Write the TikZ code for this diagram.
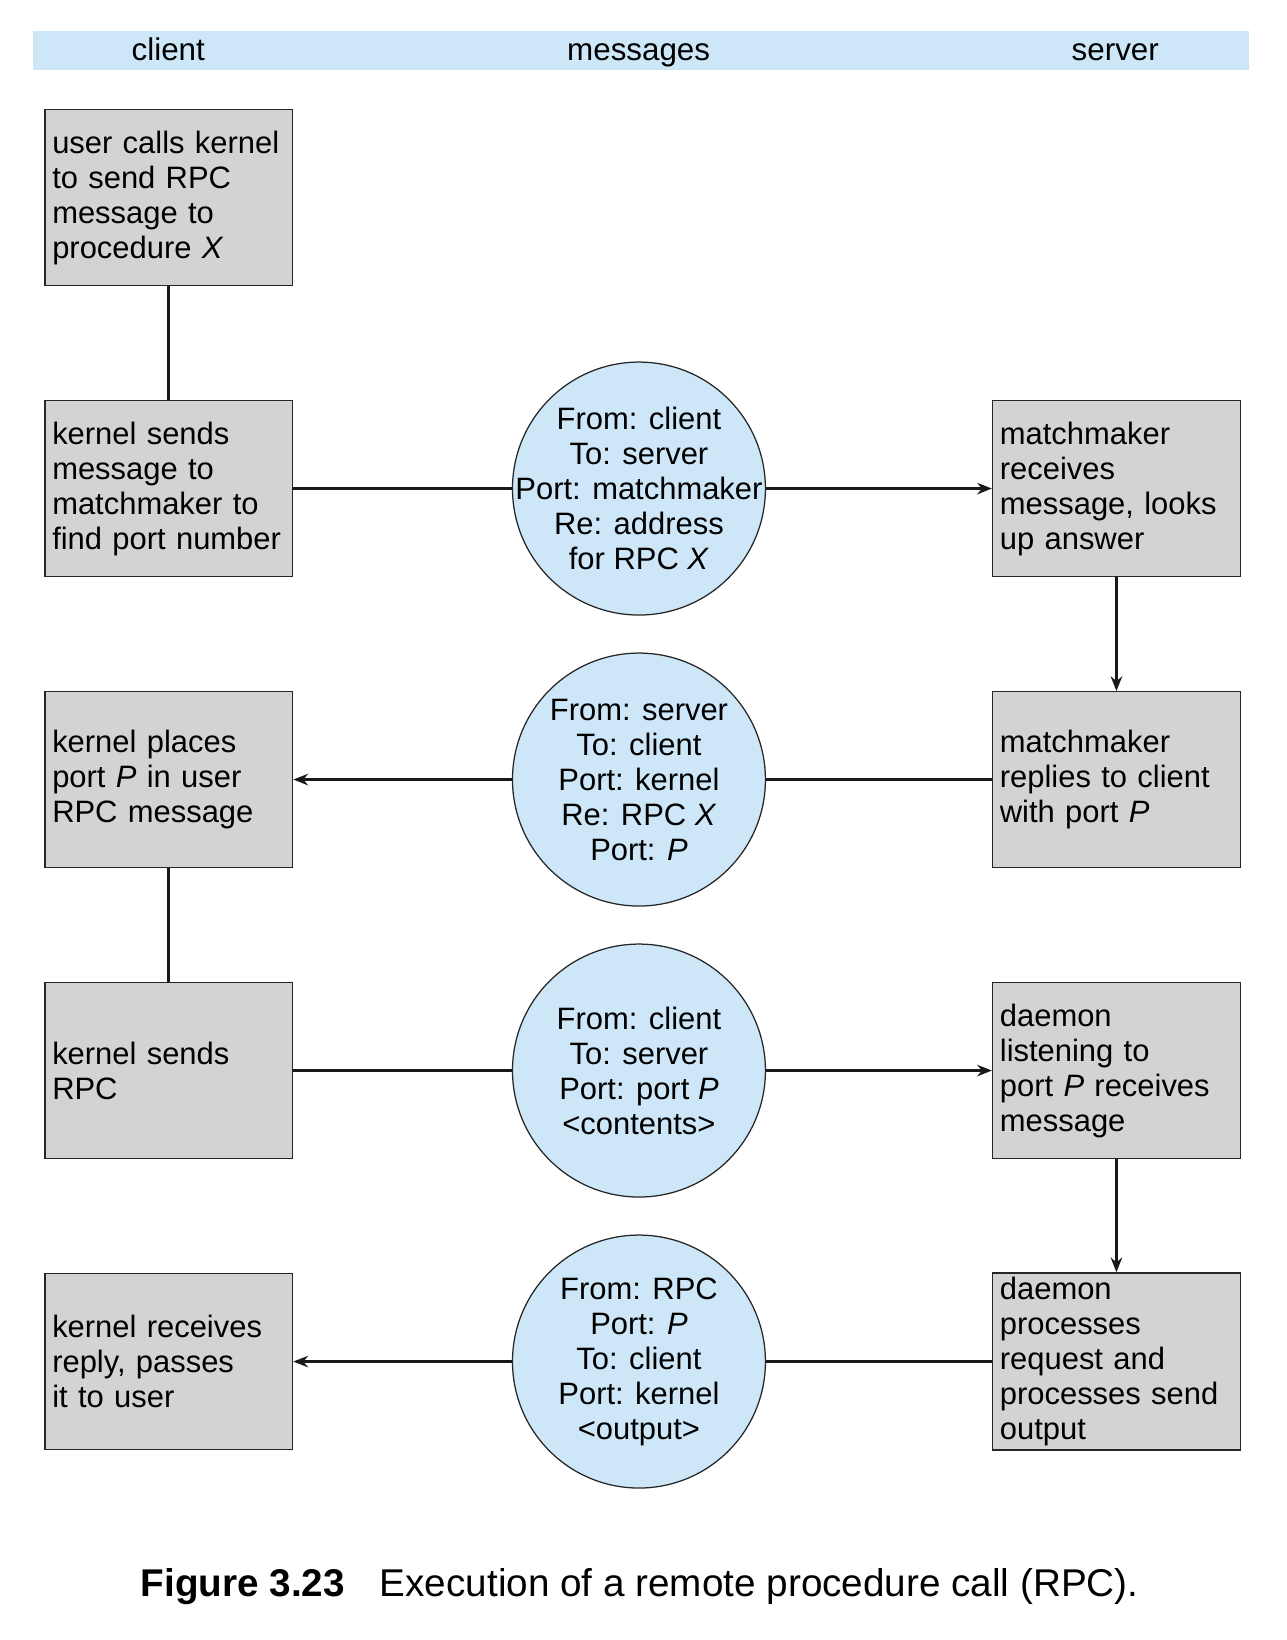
\documentclass[tikz,border=0pt]{standalone}
\usepackage{fontspec}
\setmainfont{Liberation Sans}
\usepackage{xcolor}
\usetikzlibrary{positioning,shapes,calc,arrows.meta}
\definecolor{bandblue}{HTML}{CDE7F8}
\definecolor{boxgray}{HTML}{D1D3D4}
\hyphenpenalty=10000
\exhyphenpenalty=10000

\begin{document}
\begin{tikzpicture}[x=0.5pt, y=-0.5pt,
    proc/.style={draw=black!85, line width=0.7pt, fill=boxgray, minimum width=118.5pt, minimum height=84pt,
      text width=111.5pt, align=left, inner xsep=3.5pt, inner ysep=2pt,
      font=\fontsize{14.8}{16.75}\selectfont},
    msg/.style={circle, draw=black!85, line width=0.6pt, fill=bandblue, minimum size=121pt, inner sep=-14pt,
      align=center, font=\fontsize{14.8}{16.75}\selectfont},
    head/.style={font=\fontsize{15}{18}\selectfont, text height=1.6ex, text depth=0.5ex},
    conn/.style={line width=1.4pt, black!90},
    >={Stealth[length=7pt,width=5.5pt]}]
  \useasboundingbox (0,0) rectangle (1231,1569);

  % header band
  \fill[bandblue] (32,30) rectangle (1195,67);
  \node[head] (hclient) at (161,52) {client};
  \node[head] (hmsg) at (611,52) {messages};
  \node[head] (hserver) at (1067,52) {server};

  % client side
  \node[proc] (c1) at (161.5,189) {user calls kernel\\to send RPC\\message to\\procedure \emph{X}};
  \node[proc, below=54.5pt of c1] (c2) {kernel sends\\message to\\matchmaker to\\find port number};
  \node[proc, below=54.5pt of c2] (c3) {kernel places\\port \emph{P} in user\\RPC message};
  \node[proc, below=54.5pt of c3] (c4) {kernel sends\\RPC};
  \node[proc, below=54.5pt of c4] (c5) {kernel receives\\reply, passes\\it to user};

  % messages
  \node[msg, right=104.5pt of c2] (m2) {From: client\\To: server\\Port: matchmaker\\Re: address\\for RPC \emph{X}};
  \node[msg, right=104.5pt of c3] (m3) {From: server\\To: client\\Port: kernel\\Re: RPC \emph{X}\\Port: \emph{P}};
  \node[msg, right=104.5pt of c4] (m4) {From: client\\To: server\\Port: port \emph{P}\\<contents>};
  \node[msg, right=104.5pt of c5] (m5) {From: RPC\\Port: \emph{P}\\To: client\\Port: kernel\\<output>};

  % server side
  \node[proc, right=108pt of m2] (s2) {matchmaker\\receives\\message, looks\\up answer};
  \node[proc, right=108pt of m3] (s3) {matchmaker\\replies to client\\with port \emph{P}};
  \node[proc, right=108pt of m4] (s4) {daemon\\listening to\\port \emph{P} receives\\message};
  \node[proc, right=108pt of m5] (s5) {daemon\\processes\\request and\\processes send\\output};

  % connectors
  \draw[conn] (c1) -- (c2);
  \draw[conn] (c2) -- (m2);
  \draw[conn,->] (m2) -- (s2);
  \draw[conn,->] (s2) -- (s3);
  \draw[conn] (s3) -- (m3);
  \draw[conn,->] (m3) -- (c3);
  \draw[conn] (c3) -- (c4);
  \draw[conn] (c4) -- (m4);
  \draw[conn,->] (m4) -- (s4);
  \draw[conn,->] (s4) -- (s5);
  \draw[conn] (s5) -- (m5);
  \draw[conn,->] (m5) -- (c5);

  % caption
  \node[font=\fontsize{18.5}{22}\selectfont] (caption) at (612,1518)
    {\textbf{Figure 3.23}\hspace{0.9em}Execution of a remote procedure call (RPC).};
\end{tikzpicture}
\end{document}
